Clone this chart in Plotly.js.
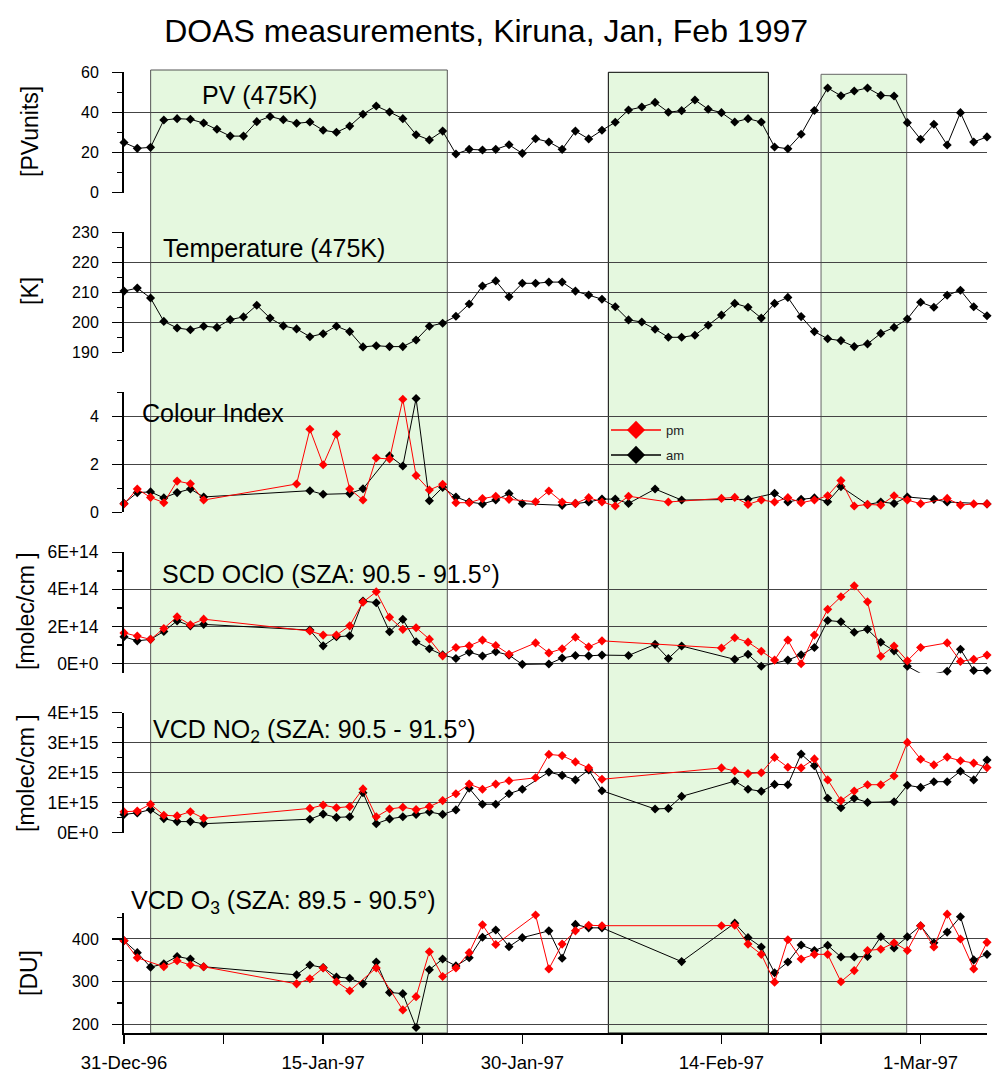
<!DOCTYPE html>
<html>
<head>
<meta charset="utf-8">
<script src="https://cdn.plot.ly/plotly-3.0.1.min.js"></script>
<style>
html,body{margin:0;padding:0;background:#fff;}
#chart{width:992px;height:1073px;}
</style>
</head>
<body>
<div id="chart"></div>
<script>
// ---------------- DATA (day offsets from 31-Dec-1996) ----------------
const pvDays = [0,1,2,3,4,5,6,7,8,9,10,11,12,13,14,15,16,17,18,19,20,21,22,23,24,25,26,27,28,29,30,31,32,33,34,35,36,37,38,39,40,41,42,43,44,45,46,47,48,49,50,51,52,53,54,55,56,57,58,59,60,61,62,63,64,65];
const pvValues = [25.0,22.1,22.6,36.2,36.9,36.6,34.7,31.6,28.2,28.2,35.4,38.0,36.4,34.6,35.2,31.1,30.1,33.2,39.1,43.2,40.2,36.9,28.9,26.3,30.7,19.3,21.6,21.3,21.6,23.9,19.6,26.9,25.3,21.6,30.7,26.8,31.1,35.1,41.2,42.7,45.0,40.1,40.9,46.2,41.6,39.9,35.2,36.9,35.2,22.8,21.9,29.1,41.0,52.2,48.3,50.7,52.2,48.5,48.2,34.9,26.6,34.1,23.8,39.9,25.3,27.8];

const tempDays = [0,1,2,3,4,5,6,7,8,9,10,11,12,13,14,15,16,17,18,19,20,21,22,23,24,25,26,27,28,29,30,31,32,33,34,35,36,37,38,39,40,41,42,43,44,45,46,47,48,49,50,51,52,53,54,55,56,57,58,59,60,61,62,63,64,65];
const tempValues = [210.4,211.4,208.1,200.3,198.1,197.5,198.7,198.3,200.9,201.8,205.7,201.4,198.8,197.8,195.2,196.2,198.7,196.9,191.8,192.2,191.9,191.9,194.1,198.7,199.7,202.0,206.1,212.1,213.8,208.5,213.0,213.0,213.4,213.4,210.4,209.1,207.7,205.2,200.8,200.1,197.7,195.0,195.0,195.7,199.0,202.4,206.3,205.0,201.4,206.3,208.3,201.9,196.9,194.5,193.9,191.9,192.8,196.3,198.3,201.1,206.7,205.0,209.0,210.7,205.2,202.2];

const ciPmDays = [0,1,2,3,4,5,6,13,14,15,16,17,18,19,20,21,22,23,24,25,26,27,28,29,31,32,33,34,35,36,37,38,41,45,46,47,48,49,50,51,52,53,54,55,56,57,58,59,60,62,63,64,65];
const ciPmValues = [0.35,0.97,0.62,0.40,1.30,1.19,0.51,1.18,3.46,1.98,3.25,0.97,0.51,2.26,2.22,4.71,1.53,0.93,1.17,0.40,0.40,0.57,0.67,0.54,0.44,0.89,0.43,0.37,0.61,0.43,0.26,0.67,0.43,0.58,0.62,0.33,0.51,0.43,0.61,0.40,0.51,0.69,1.32,0.26,0.33,0.30,0.69,0.51,0.36,0.58,0.30,0.35,0.35];
const ciAmDays = [0,1,2,3,4,5,6,14,15,17,18,20,21,22,23,24,25,26,27,28,29,30,33,34,35,36,37,38,40,42,47,49,50,51,52,53,54,56,57,58,59,61,62,65];
const ciAmValues = [0.37,0.82,0.85,0.60,0.82,0.97,0.64,0.90,0.75,0.78,0.98,2.35,1.93,4.74,0.48,1.04,0.64,0.43,0.35,0.51,0.78,0.36,0.29,0.37,0.43,0.55,0.55,0.37,0.97,0.51,0.54,0.79,0.43,0.54,0.60,0.44,1.07,0.32,0.43,0.37,0.64,0.54,0.43,0.35];

// SCD OClO, molec/cm2
const ocloPmDays = [0,1,2,3,4,5,6,14,15,16,17,18,19,20,21,22,23,24,25,26,27,28,29,31,32,33,34,35,36,45,46,47,48,49,50,51,52,53,54,55,56,57,58,59,60,62,63,64,65];
const ocloPmValues = [1.65e14,1.48e14,1.30e14,1.89e14,2.52e14,2.09e14,2.39e14,1.75e14,1.53e14,1.53e14,2.03e14,3.31e14,3.87e14,2.49e14,1.84e14,1.93e14,1.31e14,0.41e14,0.86e14,0.95e14,1.26e14,0.97e14,0.50e14,1.11e14,0.57e14,0.79e14,1.41e14,0.90e14,1.22e14,0.83e14,1.39e14,1.15e14,0.66e14,0.18e14,1.26e14,-0.02e14,1.53e14,2.92e14,3.60e14,4.19e14,3.33e14,0.39e14,0.94e14,0.14e14,0.86e14,1.11e14,0.11e14,0.22e14,0.45e14];
const ocloAmDays = [0,1,2,3,4,5,6,14,15,16,17,18,19,20,21,22,23,24,25,26,27,28,29,30,32,33,34,35,36,38,40,41,42,46,47,48,50,51,52,53,54,55,56,57,58,59,60,61,62,63,64,65];
const ocloAmValues = [1.44e14,1.22e14,1.30e14,1.73e14,2.30e14,2.03e14,2.11e14,1.80e14,0.95e14,1.44e14,1.49e14,3.37e14,3.28e14,1.71e14,2.38e14,1.17e14,0.79e14,0.46e14,0.27e14,0.61e14,0.40e14,0.63e14,0.45e14,-0.05e14,-0.03e14,0.29e14,0.43e14,0.41e14,0.45e14,0.43e14,1.03e14,0.27e14,0.94e14,0.22e14,0.49e14,-0.15e14,0.18e14,0.47e14,0.86e14,2.32e14,2.25e14,1.68e14,1.84e14,1.14e14,0.68e14,-0.15e14,-0.54e14,-0.56e14,-0.42e14,0.77e14,-0.38e14,-0.38e14];

// VCD NO2, molec/cm2
const no2PmDays = [0,1,2,3,4,5,6,14,15,16,17,18,19,20,21,22,23,24,25,26,27,28,29,31,32,33,34,35,36,45,46,47,48,49,50,51,52,53,54,55,56,57,58,59,60,61,62,63,64,65];
const no2PmValues = [0.70e15,0.72e15,0.95e15,0.58e15,0.56e15,0.70e15,0.48e15,0.81e15,0.92e15,0.83e15,0.87e15,1.46e15,0.53e15,0.79e15,0.85e15,0.77e15,0.87e15,1.07e15,1.30e15,1.62e15,1.45e15,1.62e15,1.73e15,1.83e15,2.61e15,2.57e15,2.36e15,2.16e15,1.78e15,2.16e15,2.06e15,1.97e15,2.00e15,2.51e15,2.18e15,2.16e15,2.46e15,1.76e15,1.07e15,1.39e15,1.60e15,1.60e15,1.89e15,3.01e15,2.45e15,2.26e15,2.52e15,2.40e15,2.32e15,2.17e15];
const no2AmDays = [0,1,2,3,4,5,6,14,15,16,17,18,19,20,21,22,23,24,25,26,27,28,29,30,32,33,34,35,36,40,41,42,46,47,48,49,50,51,52,53,54,55,56,58,59,60,61,62,63,64,65];
const no2AmValues = [0.61e15,0.66e15,0.77e15,0.47e15,0.37e15,0.37e15,0.30e15,0.45e15,0.62e15,0.51e15,0.53e15,1.33e15,0.30e15,0.46e15,0.53e15,0.61e15,0.69e15,0.61e15,0.76e15,1.48e15,0.95e15,0.95e15,1.30e15,1.45e15,2.02e15,1.91e15,1.76e15,2.09e15,1.40e15,0.79e15,0.81e15,1.21e15,1.72e15,1.45e15,1.38e15,1.61e15,1.60e15,2.62e15,2.23e15,1.15e15,0.83e15,1.15e15,1.01e15,1.03e15,1.58e15,1.51e15,1.70e15,1.70e15,2.05e15,1.76e15,2.42e15];

// VCD O3, DU
const o3PmDays = [0,1,3,4,5,6,13,14,15,16,17,19,21,22,23,24,25,26,27,28,31,32,33,34,35,36,45,46,47,48,49,50,51,52,53,54,55,56,57,58,59,60,61,62,63,64,65];
const o3PmValues = [396,356,335,349,339,335,295,307,332,300,279,332,234,265,370,312,332,368,433,387,456,330,388,419,432,431,431,432,388,364,299,398,353,364,364,300,326,373,376,391,373,431,381,458,400,330,392];
const o3AmDays = [0,1,2,3,4,5,6,13,14,15,16,17,18,19,20,21,22,23,24,25,26,27,28,29,30,32,33,34,35,36,42,46,47,48,49,50,51,52,53,54,55,56,57,58,59,60,61,62,63,64,65];
const o3AmValues = [396,368,334,342,359,353,335,316,339,333,311,308,295,346,275,272,193,328,353,337,356,404,421,382,403,419,355,434,426,426,347,437,403,381,321,346,386,373,385,358,358,359,405,379,405,431,391,416,452,351,364];

// shaded periods
const periodStarts = ['1997-01-02 00:10', '1997-02-05 11:30', '1997-02-21 12:00'];
const periodEnds   = ['1997-01-24 08:25', '1997-02-17 12:45', '1997-02-27 22:50'];

// x axis ticks
const xTickDates = ['1996-12-31','1997-01-15','1997-01-30','1997-02-14','1997-03-01'];
const xTickLabels = ['31-Dec-96','15-Jan-97','30-Jan-97','14-Feb-97','1-Mar-97'];
const xMinorDates = ['1997-01-07 12:00','1997-01-22 12:00','1997-02-06 12:00','1997-02-21 12:00'];

// ---------------- BUILD ----------------
const FONT = '"Liberation Sans", Arial, Helvetica, sans-serif';
const BASE = Date.UTC(1996, 11, 31);
function toDates(days) {
  return days.map(d => new Date(BASE + d * 86400000).toISOString().slice(0, 10));
}

const H = 1073, MT = 72, MB = 40;
const PH = H - MT - MB;
function py(p) { return (H - MB - p) / PH; }
function dom(topPx, botPx) { return [Math.max(0, py(botPx)), Math.min(1, py(topPx))]; }

function series(days, vals, axis, color) {
  return {
    x: toDates(days), y: vals, xaxis: 'x', yaxis: axis,
    type: 'scatter', mode: 'lines+markers', showlegend: false, cliponaxis: false,
    line: {color: color, width: 1},
    marker: {symbol: 'diamond', size: 7, color: color},
    hoverinfo: 'x+y'
  };
}

const traces = [
  series(pvDays, pvValues, 'y', '#000'),
  series(tempDays, tempValues, 'y2', '#000'),
  series(ciAmDays, ciAmValues, 'y3', '#000'),
  series(ciPmDays, ciPmValues, 'y3', '#ff0000'),
  series(ocloAmDays, ocloAmValues, 'y4', '#000'),
  series(ocloPmDays, ocloPmValues, 'y4', '#ff0000'),
  series(no2AmDays, no2AmValues, 'y5', '#000'),
  series(no2PmDays, no2PmValues, 'y5', '#ff0000'),
  series(o3AmDays, o3AmValues, 'y6', '#000'),
  series(o3PmDays, o3PmValues, 'y6', '#ff0000'),
  {x: [null], y: [null], xaxis: 'x', yaxis: 'y3', type: 'scatter', mode: 'lines+markers', name: 'pm',
   legend: 'legend', showlegend: true, line: {color: '#ff0000', width: 1.5}, marker: {symbol: 'diamond', size: 14, color: '#ff0000'}},
  {x: [null], y: [null], xaxis: 'x', yaxis: 'y3', type: 'scatter', mode: 'lines+markers', name: 'am',
   legend: 'legend2', showlegend: true, line: {color: '#000', width: 1.5}, marker: {symbol: 'diamond', size: 14, color: '#000'}}
];

function yAxis(domain, range, tickvals, ticktext, minorvals, fontSize) {
  const ax = {
    domain: domain, range: range, anchor: 'x', fixedrange: true,
    showline: true, linecolor: '#000', linewidth: 2,
    ticks: 'outside', ticklen: 10, tickwidth: 1.5, tickcolor: '#000',
    tickmode: 'array', tickvals: tickvals,
    showgrid: true, gridcolor: '#444', gridwidth: 1, zeroline: false,
    tickfont: {family: FONT, size: fontSize || 16, color: '#000'},
    ticklabelstandoff: 10,
    minor: {tickmode: 'array', tickvals: minorvals, ticks: 'outside', ticklen: 5, tickwidth: 1.5, tickcolor: '#000', showgrid: false}
  };
  if (ticktext) ax.ticktext = ticktext;
  return ax;
}

const annFont = {family: FONT, size: 25, color: '#000'};
function panelLabel(text, leftPx, midPx) {
  return {text: text, xref: 'paper', yref: 'paper', x: (leftPx - 124) / 863, y: py(midPx),
          xanchor: 'left', yanchor: 'middle', showarrow: false, font: annFont};
}
function axisLabel(text, cxPx, cyPx) {
  return {text: text, xref: 'paper', yref: 'paper', x: (cxPx - 124) / 863, y: py(cyPx),
          xanchor: 'center', yanchor: 'middle', textangle: -90, showarrow: false,
          font: {family: FONT, size: 23, color: '#000'}};
}

const boxLines = ['#555', '#000', '#666'];
const boxTops = [70, 72.3, 74.3];
const shapes = periodStarts.map((s, i) => ({
  type: 'rect', xref: 'x', yref: 'paper', x0: s, x1: periodEnds[i], y0: 0, y1: py(boxTops[i]),
  fillcolor: '#e5f8df', line: {color: boxLines[i], width: 1}, layer: 'below'
}));

const layout = {
  width: 992, height: 1073,
  margin: {l: 124, r: 5, t: MT, b: MB, pad: 0},
  paper_bgcolor: '#fff', plot_bgcolor: 'rgba(0,0,0,0)',
  font: {family: FONT, color: '#000'},
  title: {text: 'DOAS measurements, Kiruna, Jan, Feb 1997', font: {family: FONT, size: 32, color: '#000'},
          x: 0.49, xanchor: 'center', xref: 'container', y: 1 - 31 / H, yanchor: 'middle', yref: 'container'},
  xaxis: {
    type: 'date', range: ['1996-12-31', '1997-03-06'], anchor: 'y6', fixedrange: true,
    showline: true, linecolor: '#000', linewidth: 2,
    ticks: 'outside', ticklen: 9, tickwidth: 1.5, tickcolor: '#000',
    tickmode: 'array', tickvals: xTickDates, ticktext: xTickLabels,
    minor: {tickmode: 'array', tickvals: xMinorDates, ticks: 'outside', ticklen: 9, tickwidth: 1.5, tickcolor: '#000', showgrid: false},
    showgrid: false, zeroline: false, ticklabelstandoff: 3,
    tickfont: {family: FONT, size: 18.5, color: '#000'}
  },
  yaxis:  yAxis(dom(72.3, 192.7), [0, 60], [0, 20, 40, 60], null, [10, 30, 50]),
  yaxis2: yAxis(dom(232.3, 352.3), [190, 230], [190, 200, 210, 220, 230], null, [195, 205, 215, 225]),
  yaxis3: yAxis(dom(392.3, 512.3), [0, 5], [0, 2, 4], null, [1, 3, 5]),
  yaxis4: yAxis(dom(552.3, 672.7), [-0.5e14, 6e14], [0, 2e14, 4e14, 6e14], ['0E+0', '2E+14', '4E+14', '6E+14'], [1e14, 3e14, 5e14], 17.5),
  yaxis5: yAxis(dom(712.7, 832.7), [0, 4e15], [0, 1e15, 2e15, 3e15, 4e15], ['0E+0', '1E+15', '2E+15', '3E+15', '4E+15'], [0.5e15, 1.5e15, 2.5e15, 3.5e15], 17.5),
  yaxis6: yAxis(dom(913.3, 1033), [180, 460], [200, 300, 400], null, [250, 350, 450]),
  shapes: shapes,
  annotations: [
    panelLabel('PV (475K)', 200, 95),
    panelLabel('Temperature (475K)', 161, 248),
    panelLabel('Colour Index', 140, 413),
    panelLabel('SCD OClO (SZA: 90.5 - 91.5°)', 160, 574),
    panelLabel('VCD NO<sub>2</sub> (SZA: 90.5 - 91.5°)', 151, 731),
    panelLabel('VCD O<sub>3</sub> (SZA: 89.5 - 90.5°)', 129, 902),
    axisLabel('[PVunits]', 30, 132),
    axisLabel('[K]', 30, 291),
    axisLabel('[molec/cm ]', 26, 611),
    axisLabel('[molec/cm ]', 26, 773),
    axisLabel('[DU]', 29, 973)
  ],
  legend: {x: (606 - 124) / 863, y: py(430), xanchor: 'left', yanchor: 'middle', bgcolor: 'rgba(0,0,0,0)',
           borderwidth: 0, itemwidth: 50, font: {family: FONT, size: 13, color: '#222'}},
  legend2: {x: (606 - 124) / 863, y: py(455), xanchor: 'left', yanchor: 'middle', bgcolor: 'rgba(0,0,0,0)',
           borderwidth: 0, itemwidth: 50, font: {family: FONT, size: 13, color: '#222'}},
  showlegend: true
};

Plotly.newPlot('chart', traces, layout, {displayModeBar: false, staticPlot: true});
</script>
</body>
</html>
